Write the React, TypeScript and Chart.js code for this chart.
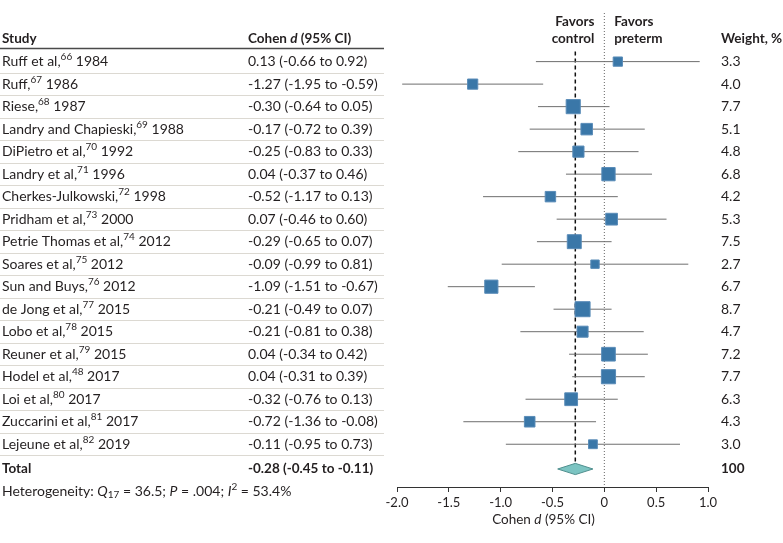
import React, { useEffect, useRef } from "react";
import { Chart, registerables } from "chart.js";

Chart.register(...registerables);

const studyNames = [
  "Ruff et al", "Ruff", "Riese", "Landry and Chapieski", "DiPietro et al", "Landry et al",
  "Cherkes-Julkowski", "Pridham et al", "Petrie Thomas et al", "Soares et al", "Sun and Buys",
  "de Jong et al", "Lobo et al", "Reuner et al", "Hodel et al", "Loi et al", "Zuccarini et al", "Lejeune et al",
];
const refNums = ["66", "67", "68", "69", "70", "71", "72", "73", "74", "75", "76", "77", "78", "79", "48", "80", "81", "82"];
const years = ["1984", "1986", "1987", "1988", "1992", "1996", "1998", "2000", "2012", "2012", "2012", "2015", "2015", "2015", "2017", "2017", "2017", "2019"];
const estimates = [0.13, -1.27, -0.3, -0.17, -0.25, 0.04, -0.52, 0.07, -0.29, -0.09, -1.09, -0.21, -0.21, 0.04, 0.04, -0.32, -0.72, -0.11];
const lowerCI = [-0.66, -1.95, -0.64, -0.72, -0.83, -0.37, -1.17, -0.46, -0.65, -0.99, -1.51, -0.49, -0.81, -0.34, -0.31, -0.76, -1.36, -0.95];
const upperCI = [0.92, -0.59, 0.05, 0.39, 0.33, 0.46, 0.13, 0.6, 0.07, 0.81, -0.67, 0.07, 0.38, 0.42, 0.39, 0.13, -0.08, 0.73];
const weights = [3.3, 4.0, 7.7, 5.1, 4.8, 6.8, 4.2, 5.3, 7.5, 2.7, 6.7, 8.7, 4.7, 7.2, 7.7, 6.3, 4.3, 3.0];
const totalEstimate = -0.28;
const totalLower = -0.45;
const totalUpper = -0.11;
const totalWeight = "100";
const xTicks = [-2, -1.5, -1, -0.5, 0, 0.5, 1];

const FONT = "Lato";
const TEXT = "#231f20";
const TOTAL_ROW = 18.1;
const HET_ROW = 19.1;

type Seg = { t: string; w?: string; i?: boolean; s?: number; dy?: number };

function drawRich(ctx: CanvasRenderingContext2D, segs: Seg[], x: number, y: number, align: string, size: number, weight: string) {
  const fontOf = (s: Seg) => `${s.i ? "italic " : ""}${s.w ?? weight} ${s.s ?? size}px ${FONT}`;
  let total = 0;
  const widths = segs.map((s) => {
    ctx.font = fontOf(s);
    const w = ctx.measureText(s.t).width;
    total += w;
    return w;
  });
  let cx = align === "right" ? x - total : align === "center" ? x - total / 2 : x;
  segs.forEach((s, k) => {
    ctx.font = fontOf(s);
    ctx.fillText(s.t, cx, y + (s.dy ?? 0));
    cx += widths[k];
  });
}

const fmt = (v: number) => v.toFixed(2);

const tablePlugin = {
  id: "forestTable",
  afterDraw(chart: any) {
    const ctx: CanvasRenderingContext2D = chart.ctx;
    const ys = chart.scales.y;
    const xs = chart.scales.x;
    const yOf = (i: number) => ys.getPixelForValue(i);
    ctx.save();
    ctx.textBaseline = "middle";
    ctx.fillStyle = TEXT;
    const colStudy = 2;
    const colCI = 248;
    const colW = 721;
    const SZ = 14;
    const HSZ = 13.5;
    const SUP = 10;

    // separators
    ctx.strokeStyle = "#dcd9d2";
    ctx.lineWidth = 1;
    for (let i = 0; i < studyNames.length; i++) {
      const y = Math.round((yOf(i) + yOf(i + 1)) / 2) + 0.5;
      ctx.beginPath();
      ctx.moveTo(0, y);
      ctx.lineTo(384, y);
      ctx.stroke();
    }
    // header line
    ctx.strokeStyle = "#4a4a4a";
    ctx.lineWidth = 1.5;
    ctx.beginPath();
    ctx.moveTo(0, 48.5);
    ctx.lineTo(384, 48.5);
    ctx.stroke();

    // headers
    const hy = 39;
    drawRich(ctx, [{ t: "Study" }], colStudy, hy, "left", HSZ, "bold");
    drawRich(ctx, [{ t: "Cohen " }, { t: "d", i: true }, { t: " (95% CI)" }], colCI, hy, "left", HSZ, "bold");
    drawRich(ctx, [{ t: "Weight, %" }], colW, hy, "left", HSZ, "bold");
    const fx0 = xs.getPixelForValue(0);
    drawRich(ctx, [{ t: "Favors" }], fx0 - 10, 22, "right", HSZ, "bold");
    drawRich(ctx, [{ t: "control" }], fx0 - 10, hy, "right", HSZ, "bold");
    drawRich(ctx, [{ t: "Favors" }], fx0 + 10, 22, "left", HSZ, "bold");
    drawRich(ctx, [{ t: "preterm" }], fx0 + 10, hy, "left", HSZ, "bold");

    // rows
    for (let i = 0; i < studyNames.length; i++) {
      const y = yOf(i);
      drawRich(
        ctx,
        [{ t: studyNames[i] + "," }, { t: refNums[i], s: SUP, dy: -4.5 }, { t: " " + years[i] }],
        colStudy, y, "left", SZ, "normal"
      );
      drawRich(ctx, [{ t: `${fmt(estimates[i])} (${fmt(lowerCI[i])} to ${fmt(upperCI[i])})` }], colCI, y, "left", SZ, "normal");
      drawRich(ctx, [{ t: weights[i].toFixed(1) }], colW, y, "left", SZ, "normal");
    }
    const ty = yOf(TOTAL_ROW);
    drawRich(ctx, [{ t: "Total" }], colStudy, ty, "left", HSZ, "bold");
    drawRich(ctx, [{ t: `${fmt(totalEstimate)} (${fmt(totalLower)} to ${fmt(totalUpper)})` }], colCI, ty, "left", HSZ, "bold");
    drawRich(ctx, [{ t: totalWeight }], colW, ty, "left", HSZ, "bold");

    const hety = yOf(HET_ROW);
    drawRich(
      ctx,
      [
        { t: "Heterogeneity: " },
        { t: "Q", i: true },
        { t: "17", s: SUP, dy: 3.5 },
        { t: " = 36.5; " },
        { t: "P", i: true },
        { t: " = .004; " },
        { t: "I", i: true },
        { t: "2", s: SUP, dy: -4.5 },
        { t: " = 53.4%" },
      ],
      colStudy, hety, "left", SZ, "normal"
    );

    // axis title
    const cx = (xs.left + xs.right) / 2 - 9;
    drawRich(ctx, [{ t: "Cohen " }, { t: "d", i: true }, { t: " (95% CI)" }], cx, 520, "center", 13.5, "normal");
    ctx.restore();
  },
};

export default function App() {
  const ref = useRef<HTMLCanvasElement | null>(null);
  useEffect(() => {
    if (!ref.current) return;
    const n = studyNames.length;
    const datasets: any[] = [];
    datasets.push({
      label: "estimates",
      data: estimates.map((e, i) => ({ x: e, y: i })),
      pointStyle: "rect",
      pointRadius: weights.map((w) => (5.1 * Math.sqrt(w)) / Math.SQRT2),
      backgroundColor: "#3a77a8",
      borderColor: "#5a8cb8",
      borderWidth: 1,
      showLine: false,
    });
    for (let i = 0; i < n; i++) {
      datasets.push({
        label: "ci" + i,
        data: [{ x: lowerCI[i], y: i }, { x: upperCI[i], y: i }],
        showLine: true,
        borderColor: "#6e6e6e",
        borderWidth: 1,
        pointRadius: 0,
      });
    }
    datasets.push({
      label: "diamondTop",
      data: [
        { x: totalLower, y: TOTAL_ROW },
        { x: totalEstimate, y: TOTAL_ROW - 0.25 },
        { x: totalUpper, y: TOTAL_ROW },
      ],
      showLine: true,
      borderColor: "#4f8f8e",
      borderWidth: 1,
      pointRadius: 0,
      tension: 0,
    });
    datasets.push({
      label: "diamondBottom",
      data: [
        { x: totalLower, y: TOTAL_ROW },
        { x: totalEstimate, y: TOTAL_ROW + 0.25 },
        { x: totalUpper, y: TOTAL_ROW },
      ],
      showLine: true,
      borderColor: "#4f8f8e",
      backgroundColor: "#7cc4c2",
      borderWidth: 1,
      pointRadius: 0,
      fill: "-1",
      tension: 0,
    });
    datasets.push({
      label: "overall",
      data: [{ x: totalEstimate, y: -0.45 }, { x: totalEstimate, y: TOTAL_ROW - 0.25 }],
      showLine: true,
      borderColor: "#111",
      borderWidth: 1.5,
      borderDash: [4, 3],
      pointRadius: 0,
    });
    datasets.push({
      label: "null",
      data: [{ x: 0, y: -2.16 }, { x: 0, y: 18.9 }],
      showLine: true,
      borderColor: "#666",
      borderWidth: 1,
      borderDash: [1, 2],
      pointRadius: 0,
    });

    const chart = new Chart(ref.current, {
      type: "scatter",
      data: { datasets },
      plugins: [tablePlugin],
      options: {
        animation: false,
        responsive: false,
        devicePixelRatio: 1,
        layout: { padding: { left: 397, right: 75, top: 13, bottom: 0 } },
        plugins: { legend: { display: false }, tooltip: { enabled: false } },
        scales: {
          x: {
            type: "linear",
            min: -2,
            max: 1,
            afterBuildTicks: (s: any) => {
              s.ticks = xTicks.map((v) => ({ value: v }));
            },
            afterFit: (s: any) => {
              s.height = 56;
            },
            ticks: {
              callback: (v: any) => (Number(v) === 0 ? "0" : Number(v).toFixed(1)),
              font: { family: FONT, size: 13 },
              color: TEXT,
              padding: 3,
              maxRotation: 0,
              autoSkip: false,
            },
            grid: { drawOnChartArea: false, drawTicks: true, tickLength: 5, color: "#333" },
            border: { display: true, color: "#333", width: 1 },
          },
          y: { type: "linear", reverse: true, min: -2.16, max: 18.9, display: false },
        },
      } as any,
    });
    return () => chart.destroy();
  }, []);
  return (
    <canvas
      ref={ref}
      width={783}
      height={543}
      style={{ position: "absolute", left: 0, top: 0, width: 783, height: 543 }}
    />
  );
}
